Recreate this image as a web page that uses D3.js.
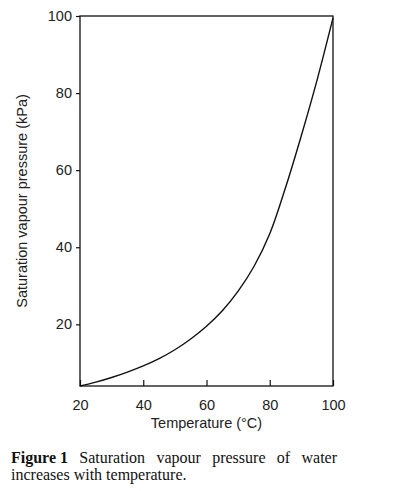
<!DOCTYPE html>
<html>
<head>
<meta charset="utf-8">
<script src="https://cdn.jsdelivr.net/npm/d3@7"></script>
<style>
  body { margin: 0; background: #fff; }
  svg { display: block; }
  .tick text { font-family: "Liberation Sans", Arial, sans-serif; font-size: 14.5px; fill: #222; }
  .axis-title { font-family: "Liberation Sans", Arial, sans-serif; font-size: 14.5px; fill: #222; }
  .caption { font-family: "Liberation Serif", "Times New Roman", serif; font-size: 16px; fill: #111; }
</style>
</head>
<body>
<div id="chart"></div>
<script>
// Temperature (°C) and saturation vapour pressure (kPa)
const temps = [20, 25, 30, 35, 40, 45, 50, 55, 60, 65, 70, 75, 80, 85, 90, 95, 100];
const pressures = [4.0, 5.0, 6.2, 7.6, 9.2, 11.1, 13.4, 16.2, 19.5, 23.5, 28.6, 35.0, 43.5, 55.5, 69.0, 83.5, 99.5];
const xTicks = [20, 40, 60, 80, 100];
const yTicks = [20, 40, 60, 80, 100];
const captionWords = ["Saturation", "vapour", "pressure", "of", "water"];

const width = 395, height = 491;
const margin = { top: 16, right: 62, bottom: 105, left: 80 };

const svg = d3.select("#chart")
  .append("svg")
  .attr("width", width)
  .attr("height", height);

const x = d3.scaleLinear()
  .domain([20, 100])
  .range([margin.left, width - margin.right]);

const y = d3.scaleLinear()
  .domain([4, 100])
  .range([height - margin.bottom, margin.top]);

// frame
svg.append("rect")
  .attr("x", x(20))
  .attr("y", y(100))
  .attr("width", x(100) - x(20))
  .attr("height", y(4) - y(100))
  .attr("fill", "none")
  .attr("stroke", "#111")
  .attr("stroke-width", 1.3);

// x axis: ticks point inward
const xAxis = svg.append("g")
  .attr("transform", `translate(0, ${y(4)})`)
  .call(d3.axisBottom(x).tickValues(xTicks).tickSizeInner(-6).tickSizeOuter(0).tickPadding(14));
xAxis.select(".domain").remove();
xAxis.selectAll(".tick line").attr("stroke", "#111").attr("stroke-width", 1.2);

// y axis: ticks point outward
const yAxis = svg.append("g")
  .attr("transform", `translate(${x(20)}, 0)`)
  .call(d3.axisLeft(y).tickValues(yTicks).tickSizeInner(4).tickSizeOuter(0).tickPadding(4));
yAxis.select(".domain").remove();
yAxis.selectAll(".tick line").attr("stroke", "#111").attr("stroke-width", 1.2);

// curve
const line = d3.line()
  .x((d, i) => x(temps[i]))
  .y(d => y(d))
  .curve(d3.curveCatmullRom.alpha(0.5));

svg.append("path")
  .datum(pressures)
  .attr("fill", "none")
  .attr("stroke", "#111")
  .attr("stroke-width", 1.4)
  .attr("d", line);

// axis titles
svg.append("text")
  .attr("class", "axis-title")
  .attr("x", (x(20) + x(100)) / 2)
  .attr("y", 428)
  .attr("text-anchor", "middle")
  .text("Temperature (°C)");

svg.append("text")
  .attr("class", "axis-title")
  .attr("transform", `translate(27, ${(y(4) + y(100)) / 2}) rotate(-90)`)
  .attr("text-anchor", "middle")
  .text("Saturation vapour pressure (kPa)");

// caption, first line justified by spreading the words
const capLeft = 11, capRight = 337, capY1 = 463, capY2 = 480;
const label = svg.append("text")
  .attr("class", "caption")
  .attr("x", capLeft)
  .attr("y", capY1)
  .attr("font-weight", "bold")
  .text("Figure 1");
let cursor = capLeft + label.node().getComputedTextLength();

const words = captionWords.map(w => svg.append("text")
  .attr("class", "caption")
  .attr("y", capY1)
  .text(w));
const wordWidths = words.map(t => t.node().getComputedTextLength());
const total = wordWidths.reduce((a, b) => a + b, 0);
const gap = (capRight - cursor - total) / words.length;
words.forEach((t, i) => {
  cursor += gap;
  t.attr("x", cursor);
  cursor += wordWidths[i];
});

svg.append("text")
  .attr("class", "caption")
  .attr("x", capLeft)
  .attr("y", capY2)
  .text("increases with temperature.");
</script>
</body>
</html>
